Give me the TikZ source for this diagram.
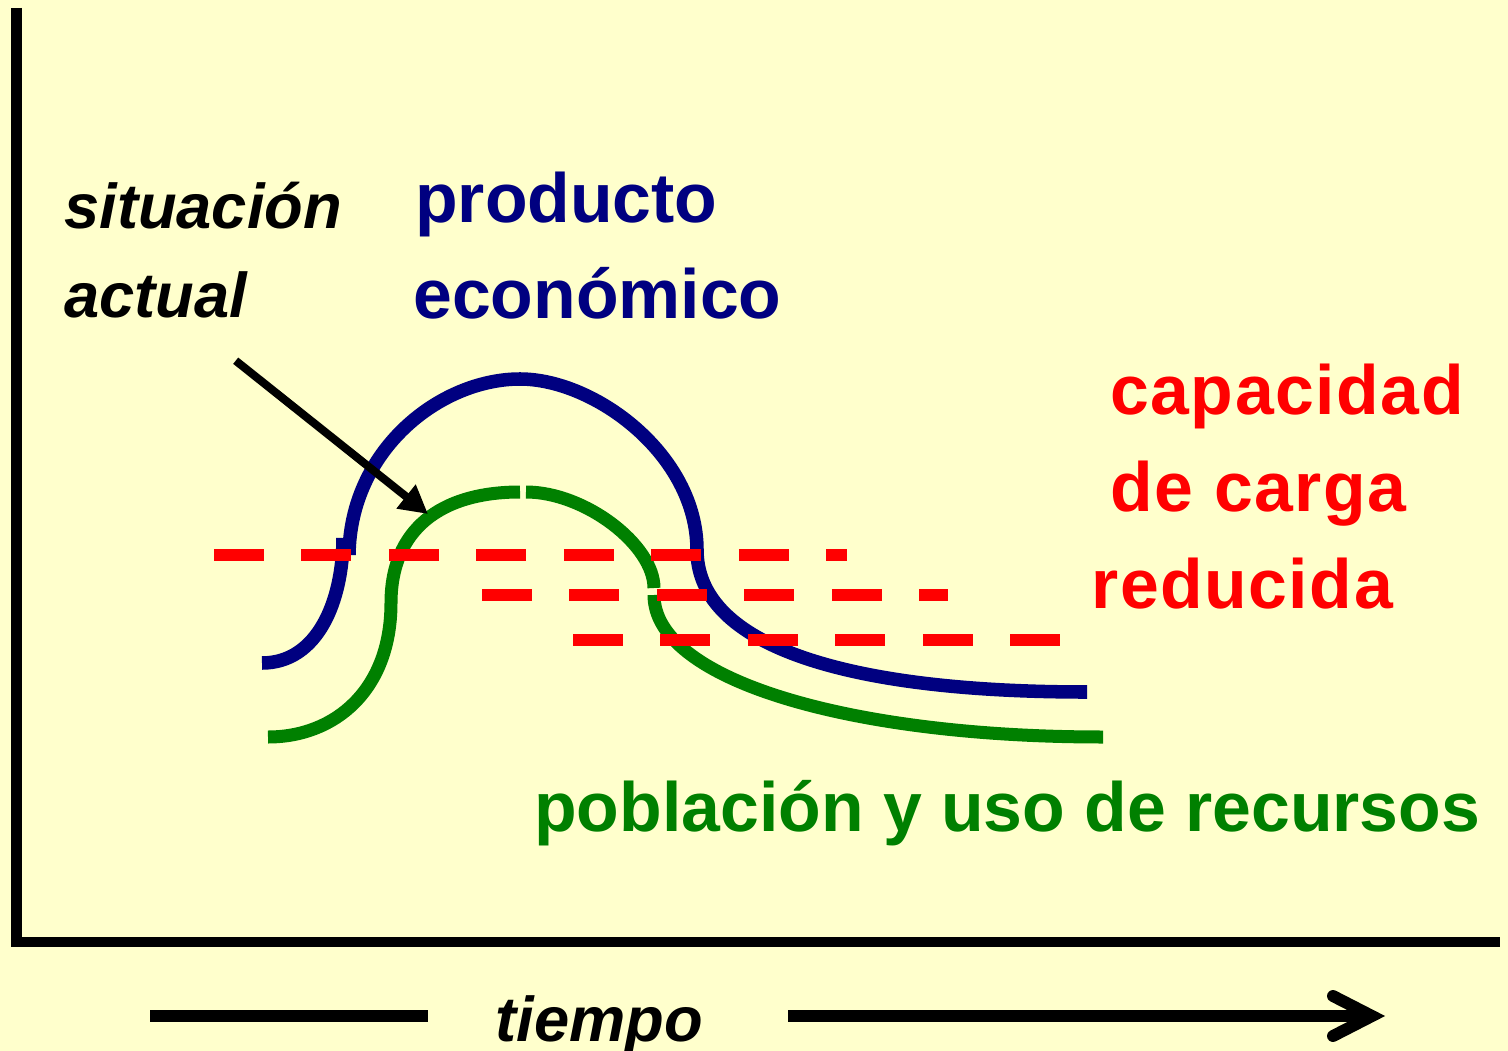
\documentclass[tikz,border=0pt]{standalone}
\usepackage{fontspec}
\setmainfont{Liberation Sans}
\newfontfamily\spacedsans{Liberation Sans}[LetterSpace=2.2]
\usetikzlibrary{arrows.meta}
\definecolor{bgc}{HTML}{FFFFCC}
\definecolor{navyc}{HTML}{000080}
\definecolor{greenc}{HTML}{008000}
\definecolor{redc}{HTML}{FF0000}
\begin{document}
\begin{tikzpicture}[x=0.02cm,y=-0.02cm,
  axisline/.style={line width=6pt,line join=miter},
  curveblue/.style={draw=navyc,line width=7.7pt},
  curvegreen/.style={draw=greenc,line width=7.4pt},
  reddash/.style={draw=redc,line width=6.8pt,dash pattern=on 1cm off 0.75cm},
  lbl/.style={anchor=base west,inner sep=0pt,font=\fontsize{39.7}{44}\selectfont\bfseries},
  rlbl/.style={anchor=base west,inner sep=0pt,text=redc,font=\spacedsans\fontsize{39.7}{44}\selectfont\bfseries},
  ilbl/.style={anchor=base west,inner sep=0pt,font=\fontsize{36}{40}\selectfont\bfseries\itshape}]
\fill[bgc] (0,0) rectangle (1508,1051);
\useasboundingbox (0,0) rectangle (1508,1051);

% axes
\coordinate (ytop) at (16.3,8);
\coordinate (orig) at (16.3,942);
\coordinate (xend) at (1500,942);
\draw[axisline] (ytop) -- (orig) -- (xend);

% blue curve: producto economico
\draw[curveblue] (262,663) .. controls (318,663) and (343,600) .. (343,538);
\draw[curveblue] (349,555) .. controls (350,450) and (440,379) .. (520,379)
   .. controls (595,379) and (697,455) .. (697,550)
   .. controls (697,640) and (830,692) .. (1087,692);

% green curve: poblacion y uso de recursos
\draw[curvegreen] (268,737) .. controls (335,737) and (391,690) .. (391,603)
   .. controls (391,530) and (440,492) .. (520,492);
\draw[curvegreen] (526,492) .. controls (585,492) and (654,545) .. (654,588);
\draw[curvegreen] (654,595) .. controls (654,680) and (850,737) .. (1103,737);

% arrow situacion actual
\coordinate (atail) at (235.7,360.7);
\coordinate (atip) at (428,514);
\draw[line width=4.6pt,-{Triangle[length=16pt,width=16.5pt]}] (atail) -- (atip);

% red dashed lines: capacidad de carga reducida
\coordinate (d1s) at (214,555);  \coordinate (d1e) at (847,555);
\coordinate (d2s) at (482,595);  \coordinate (d2e) at (948,595);
\coordinate (d3s) at (573,640);  \coordinate (d3e) at (1061,640);
\draw[reddash] (d1s) -- (d1e);
\draw[reddash] (d2s) -- (d2e);
\draw[reddash] (d3s) -- (d3e);

% time arrow
\coordinate (t1s) at (150,1016);
\coordinate (t1e) at (428,1016);
\coordinate (t2s) at (788,1016);
\coordinate (t2e) at (1372,1016);
\coordinate (barbu) at (1333,996);
\coordinate (barbd) at (1333,1036);
\draw[line width=6.8pt] (t1s) -- (t1e);
\draw[line width=6.8pt] (t2s) -- (t2e);
\draw[line width=6.8pt,line cap=round,line join=miter] (barbu) -- (t2e) -- (barbd);

% labels
\node[ilbl] (sit1) at (64,228) {situación};
\node[ilbl] (sit2) at (64,317) {actual};
\node[lbl,text=navyc] (prod1) at (415,222) {producto};
\node[lbl,text=navyc] (prod2) at (413,318) {económico};
\node[rlbl] (cap1) at (1110,414) {capacidad};
\node[rlbl] (cap2) at (1110,511) {de carga};
\node[rlbl] (cap3) at (1091,608) {reducida};
\node[lbl,text=greenc] (pob) at (534,831) {población y uso de recursos};
\node[ilbl] (tiempo) at (495,1041) {tiempo};
\end{tikzpicture}
\end{document}
